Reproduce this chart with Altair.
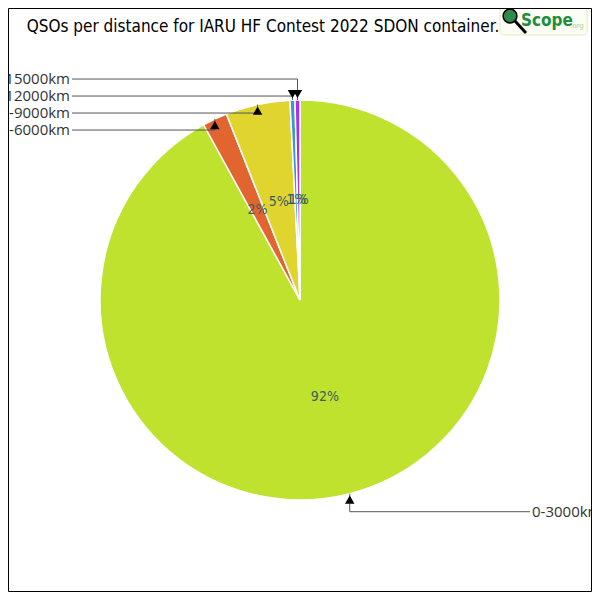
import math
import altair as alt
import pandas as pd

# ---- data ----
categories = ["0-3000km", "3000-6000km", "6000-9000km", "9000-12000km", "12000-15000km"]
shares = [92.0, 2.0, 5.2, 0.4, 0.4]          # percent of QSOs
pct_labels = ["92%", "2%", "5%", "1%", "1%"]
colors = ["#BEE22E", "#E2642F", "#E0D42E", "#3498DB", "#AA32E6"]
title_text = "QSOs per distance for IARU HF Contest 2022 SDON container."

# ---- geometry (pixels, plot coordinates; page offset is 8px) ----
OFF = 8
CX, CY, R = 300 - OFF, 300 - OFF, 200
NARROW = "DejaVu Sans Condensed, Roboto, sans-serif"

df = pd.DataFrame({"cat": categories, "share": shares, "lab": pct_labels,
                   "ord": list(range(len(categories)))})

# leader-line layout computed from the values
total = sum(shares)
rows_lines, rows_heads, rows_text = [], [], []
cum = 0.0
info = []
for c, s in zip(categories, shares):
    mid = (cum + s / 2) / total * 2 * math.pi
    cum += s
    ax = CX + R * math.sin(mid)
    ay = CY - R * math.cos(mid)
    side = "right" if math.sin(mid) > 0 else "left"
    ly = ay + (18 if ay > CY else 11)
    info.append([c, ax, ay, side, ly])

# resolve overlaps of left labels (bottom-up, min gap)
left = sorted([i for i in info if i[3] == "left"], key=lambda r: -r[4])
prev = None
for r in left:
    if prev is not None and r[4] > prev - 17:
        r[4] = prev - 17
    prev = r[4]

for c, ax, ay, side, ly in info:
    lx = 72 - OFF if side == "left" else 530 - OFF
    pts = [(lx, ly), (ax, ly), (ax, ay)]
    for k, (x, y) in enumerate(pts):
        rows_lines.append({"cat": c, "k": k, "x": x, "y": y})
    up = ay < ly
    rows_heads.append({"cat": c, "x": ax, "y": ay + (6 if up else -6),
                       "shape": "triangle-up" if up else "triangle-down"})
    rows_text.append({"cat": c, "x": lx - 2 if side == "left" else lx + 2,
                      "y": ly, "side": side})

lines_df = pd.DataFrame(rows_lines)
heads_df = pd.DataFrame(rows_heads)
text_df = pd.DataFrame(rows_text)

color_scale = alt.Scale(domain=categories, range=colors)

pie = alt.Chart(df).mark_arc(radius=R, stroke="white", strokeWidth=1.5).encode(
    theta=alt.Theta("share:Q", stack=True),
    color=alt.Color("cat:N", scale=color_scale, legend=None),
    order=alt.Order("ord:Q"),
)

pct = alt.Chart(df).mark_text(radius=100, font=NARROW, fontSize=14,
                              color="#3A5F5F").encode(
    theta=alt.Theta("share:Q", stack=True),
    order=alt.Order("ord:Q"),
    text="lab:N",
)

lines = alt.Chart(lines_df).mark_line(color="#555555", strokeWidth=1).encode(
    x=alt.X("x:Q", scale=None),
    y=alt.Y("y:Q", scale=None),
    detail="cat:N",
    order="k:Q",
)

heads = alt.Chart(heads_df).mark_point(filled=True, color="black", size=90, opacity=1).encode(
    x=alt.X("x:Q", scale=None),
    y=alt.Y("y:Q", scale=None),
    shape=alt.Shape("shape:N", scale=None),
)

lab_left = alt.Chart(text_df).transform_filter("datum.side == 'left'").mark_text(
    align="right", baseline="middle", font="Open Sans", fontSize=15, color="#333333").encode(
    x=alt.X("x:Q", scale=None), y=alt.Y("y:Q", scale=None), text="cat:N")
lab_right = alt.Chart(text_df).transform_filter("datum.side == 'right'").mark_text(
    align="left", baseline="middle", font="Open Sans", fontSize=15, color="#333333").encode(
    x=alt.X("x:Q", scale=None), y=alt.Y("y:Q", scale=None), text="cat:N")

title = alt.Chart(pd.DataFrame({"t": [title_text]})).mark_text(
    font=NARROW, fontSize=17, color="black", align="center", baseline="middle").encode(
    x=alt.value(263 - OFF), y=alt.value(27 - OFF), text="t:N")

border = alt.Chart(pd.DataFrame({"a": [0]})).mark_rect(fill=None, stroke="black", strokeWidth=1).encode(
    x=alt.value(0.5), x2=alt.value(583.5), y=alt.value(0.5), y2=alt.value(583.5))

# logo
logo_box = alt.Chart(pd.DataFrame({"a": [0]})).mark_rect(
    fill="#FCFDF4", stroke="#E2ECBC", strokeWidth=1, cornerRadius=4).encode(
    x=alt.value(500 - OFF), x2=alt.value(587 - OFF), y=alt.value(4 - OFF), y2=alt.value(35 - OFF))
logo_handle = alt.Chart(pd.DataFrame({"a": [0]})).mark_rule(color="black", strokeWidth=3).encode(
    x=alt.value(515 - OFF), x2=alt.value(526 - OFF), y=alt.value(21 - OFF), y2=alt.value(33 - OFF))
logo_lens = alt.Chart(pd.DataFrame({"a": [0]})).mark_point(
    filled=True, fill="#2E8B4E", stroke="black", strokeWidth=1.5, size=190, shape="circle", opacity=1).encode(
    x=alt.value(510 - OFF), y=alt.value(16 - OFF))
logo_text = alt.Chart(pd.DataFrame({"t": ["Scope"]})).mark_text(
    font=NARROW, fontSize=17, fontWeight="bold", color="#1E8E3E",
    align="left", baseline="alphabetic").encode(x=alt.value(521 - OFF), y=alt.value(26 - OFF), text="t:N")
logo_org = alt.Chart(pd.DataFrame({"t": [".org"]})).mark_text(
    font="Liberation Sans", fontSize=8, color="#B5D58A", align="left", baseline="alphabetic").encode(
    x=alt.value(570 - OFF), y=alt.value(28 - OFF), text="t:N")

chart = alt.layer(
    pie, pct, lines, heads, lab_left, lab_right, title,
    logo_box, logo_handle, logo_lens, logo_text, logo_org, border,
).properties(
    width=584, height=584,
    autosize=alt.AutoSizeParams(type="none"),
    padding=0,
    background="white",
).configure_view(stroke=None)

chart.save("out.html", embed_options={"renderer": "svg", "actions": False})
